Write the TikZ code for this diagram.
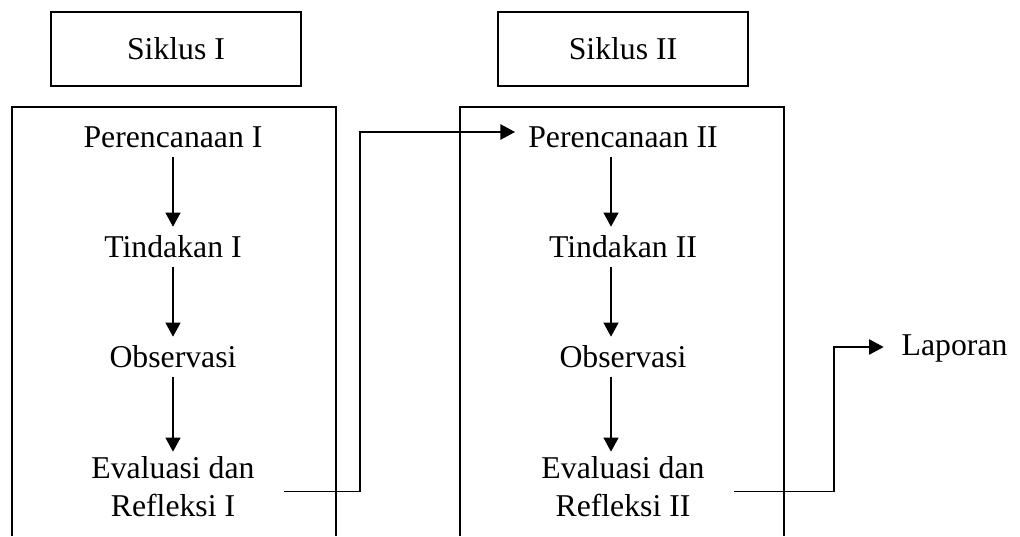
\documentclass[tikz,border=0pt]{standalone}
\usepackage{fontspec}
\setmainfont{Liberation Serif}
\usepackage{xcolor}
\usetikzlibrary{arrows.meta}
\definecolor{ink}{HTML}{000000}
\definecolor{paper}{HTML}{FFFFFF}
\tikzset{
  frame/.style={draw=ink, line width=1.1pt},
  txt/.style={text=ink, font=\fontsize{23.8}{28.5}\selectfont},
  head/.style={txt, draw=ink, line width=1.1pt, minimum width=187.5pt, minimum height=55.5pt, text height=19.5pt, text depth=4pt},
  stage/.style={txt, text height=19.5pt, text depth=4pt, inner ysep=3pt},
  stagelast/.style={txt, align=center, inner ysep=3pt, inner xsep=22pt},
  flow/.style={draw=ink, line width=1.5pt, -{Triangle[length=10.5pt,width=11pt]}},
  link/.style={draw=ink, line width=1.1pt, -{Triangle[length=11pt,width=11.5pt]}, shorten >=6.4pt},
}

\begin{document}
\begin{tikzpicture}[x=0.75pt, y=-0.75pt]
  \fill[paper] (0,0) rectangle (1020,536);
  \useasboundingbox (0,0) rectangle (1020,536);
  % cycle headers
  \node[head] (sik1) at (176,49) {Siklus I};
  \node[head] (sik2) at (623,49) {Siklus II};
  % frames, open at the bottom
  \draw[frame] (12,536) |- (336,107) -- (336,536);
  \draw[frame] (460,536) |- (784,107) -- (784,536);
  % cycle I
  \node[stage, anchor=base] (plan1) at (173,147) {Perencanaan I};
  \node[stage, anchor=base] (act1) at (173,257) {Tindakan I};
  \node[stage, anchor=base] (obs1) at (173,367) {Observasi};
  \node[stagelast, anchor=base] (ref1) at (173,516) {Evaluasi dan\\Refleksi I};
  \draw[flow] (plan1) -- (act1);
  \draw[flow] (act1) -- (obs1);
  \draw[flow] (obs1) -- (ref1);
  % cycle II
  \node[stage, anchor=base] (plan2) at (623,147) {Perencanaan II};
  \node[stage, anchor=base] (act2) at (623,257) {Tindakan II};
  \node[stage, anchor=base] (obs2) at (623,367) {Observasi};
  \node[stagelast, anchor=base] (ref2) at (623,516) {Evaluasi dan\\Refleksi II};
  \draw[flow] ([xshift=-9pt]plan2.south) -- ([xshift=-9pt]act2.north);
  \draw[flow] ([xshift=-9pt]act2.south) -- ([xshift=-9pt]obs2.north);
  \draw[flow] ([xshift=-9pt]obs2.south) -- ([xshift=-9pt]ref2.north);
  % report
  \node[stage, anchor=base west] (report) at (897,355) {Laporan};
  % links between cycles
  \coordinate (bend1) at (360,132);
  \coordinate (bend2) at (834,347);
  \draw[link] ([yshift=-4pt]ref1.east) -| (bend1) -- (bend1 -| plan2.west);
  \draw[link, shorten >=10pt] ([yshift=-4pt]ref2.east) -| (bend2) -- (bend2 -| report.west);
\end{tikzpicture}
\end{document}
